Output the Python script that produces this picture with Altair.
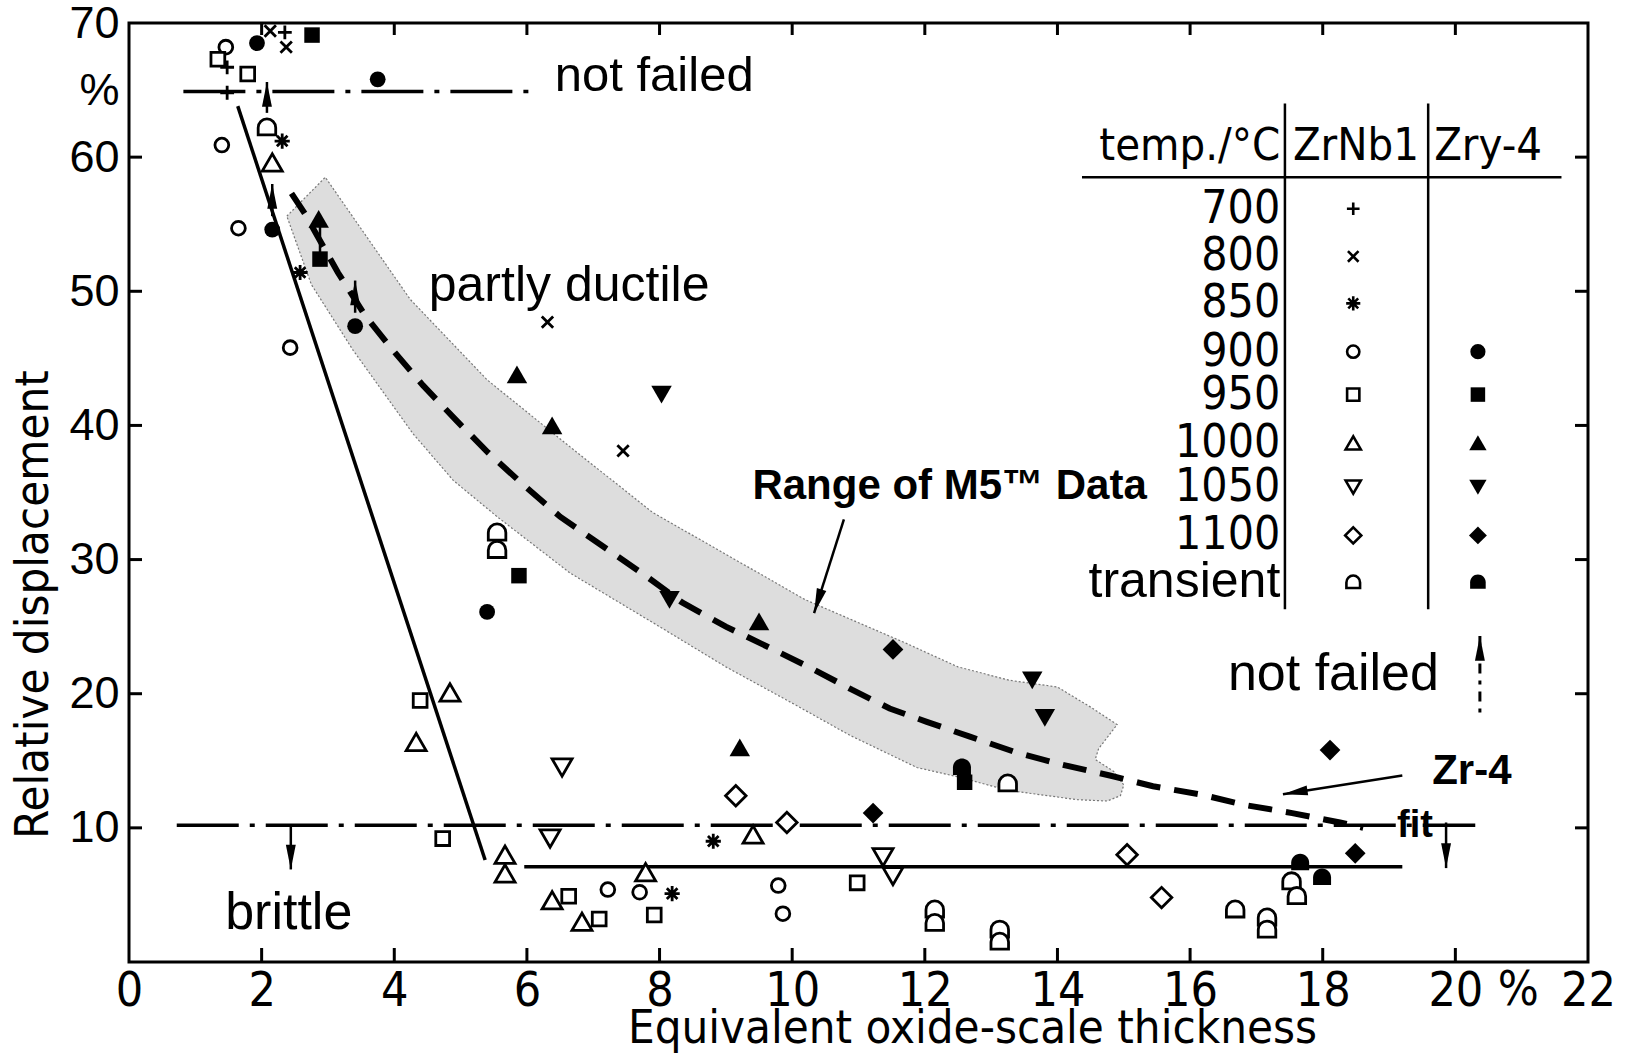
import math
import altair as alt
import pandas as pd

# ---------------- data ----------------
temp_order = ["700", "800", "850", "900", "950", "1000", "1050", "1100", "transient"]

# ZrNb1 (open symbols)
zrnb1 = {
    "700": ([1.48, 1.48, 2.35], [64.8, 66.7, 69.3]),
    "800": ([2.13, 2.37, 6.31, 7.45], [69.4, 68.2, 47.7, 38.1]),
    "850": ([2.31, 2.58, 8.81, 8.19], [61.2, 51.4, 9.0, 5.1]),
    "900": ([1.46, 1.40, 1.65, 2.43, 7.22, 7.70, 9.79, 9.86], [68.2, 60.9, 54.7, 45.8, 5.4, 5.2, 5.7, 3.6]),
    "950": ([1.34, 1.79, 4.39, 4.73, 6.63, 7.09, 7.92, 10.98], [67.3, 66.2, 19.5, 9.2, 4.9, 3.2, 3.5, 5.9]),
    "1000": ([2.16, 4.84, 4.33, 5.67, 5.67, 7.79, 6.38, 6.83, 9.41], [59.6, 20.1, 16.4, 8.0, 6.6, 6.7, 4.6, 3.0, 9.5]),
    "1050": ([6.53, 6.35, 11.37, 11.52], [14.5, 9.2, 7.8, 6.4]),
    "1100": ([9.15, 9.92, 15.05, 15.57], [12.4, 10.4, 8.0, 4.8]),
    "transient": ([2.08, 5.55, 5.55, 13.25, 12.15, 12.15, 13.13, 13.13, 16.68, 17.16, 17.16, 17.53, 17.61],
                  [62.2, 32.0, 30.7, 13.3, 3.9, 2.9, 2.4, 1.5, 3.9, 3.3, 2.4, 6.0, 4.9]),
}

# Zry-4 (filled symbols)
zry4 = {
    "900": ([1.93, 3.75, 2.16, 3.41, 5.40], [68.5, 65.8, 54.6, 47.4, 26.1]),
    "950": ([2.76, 2.88, 5.88, 12.60], [69.1, 52.4, 28.8, 13.4]),
    "1000": ([2.86, 5.85, 6.38, 9.50, 9.21], [55.4, 43.8, 40.0, 25.4, 16.0]),
    "1050": ([8.03, 8.15, 13.62, 13.81], [42.3, 27.0, 21.0, 18.2]),
    "1100": ([11.52, 11.22, 18.11, 18.49], [23.3, 11.1, 15.8, 8.1]),
    "transient": ([12.56, 17.66, 17.99], [14.5, 7.4, 6.3]),
}

# Zr-4 fit (dashed curve)
fit_x = [2.45, 2.65, 3.15, 3.56, 3.98, 4.43, 4.95, 5.41, 5.94, 6.50, 7.20, 7.76, 8.34, 9.00, 9.63,
         10.25, 10.90, 11.47, 12.03, 12.68, 13.39, 14.08, 14.79, 15.44, 16.15, 16.83, 17.54, 18.26, 18.61]
fit_y = [57.3, 55.8, 51.4, 48.2, 45.6, 43.0, 40.3, 38.0, 35.6, 33.2, 30.8, 28.9, 26.8, 25.0, 23.5,
         22.0, 20.3, 18.9, 17.9, 16.8, 15.6, 14.7, 13.9, 13.1, 12.5, 11.7, 11.1, 10.4, 10.0]

# Range of M5 data (shaded band outline)
band_x = [2.38, 2.96, 3.48, 4.24, 5.40, 6.65, 7.90, 10.20, 11.70, 12.50, 13.28, 14.00, 14.50, 14.90,
          14.62, 14.57, 14.85, 15.00, 14.95, 14.75, 14.30, 13.25, 12.50, 11.88, 10.87, 10.00, 9.00,
          8.00, 6.65, 5.55, 4.89, 4.28, 3.38, 2.75]
band_y = [55.6, 58.5, 54.8, 49.4, 43.4, 38.4, 33.5, 27.0, 23.8, 22.0, 21.0, 20.5, 19.0, 17.7,
          15.9, 15.1, 14.2, 13.2, 12.4, 12.0, 12.1, 12.8, 13.8, 14.5, 16.9, 19.3, 22.0,
          25.0, 29.0, 33.2, 35.9, 39.4, 45.6, 50.5]

# straight boundary lines (x1, y1, x2, y2)
solid_lines = [(1.64, 63.8, 5.37, 7.6), (5.96, 7.1, 19.2, 7.1)]
dashdot_lines = [(0.82, 64.9, 6.12, 64.9), (0.72, 10.2, 20.3, 10.2)]

# arrows (tail x, tail y, tip x, tip y)
arrows = [
    (2.08, 63.3, 2.08, 65.6),
    (2.16, 55.6, 2.16, 58.0),
    (3.41, 48.4, 3.41, 50.8),
    (2.44, 10.2, 2.44, 6.9),
    (19.86, 10.4, 19.86, 7.0),
    (10.78, 33.0, 10.33, 26.0),
    (19.20, 13.9, 17.40, 12.5),
]
link_lines = [(2.88, 52.4, 2.88, 55.4)]
notfailed_arrow = (20.37, 18.6, 20.37, 24.3)

# annotations
ann_plain = [("not failed", 6.42, 64.9), ("partly ductile", 4.52, 49.3),
             ("brittle", 1.45, 2.46), ("not failed", 16.57, 20.3)]
ann_bold = [("Range of M5\u2122 Data", 9.40, 34.5), ("Zr-4", 19.65, 13.3), ("fit", 19.12, 9.3)]

# legend table
leg_labels = ["700", "800", "850", "900", "950", "1000", "1050", "1100", "transient"]
leg_y = [56.15, 52.6, 49.1, 45.5, 42.3, 38.7, 35.4, 31.8, 28.3]
leg_zry4 = ["900", "950", "1000", "1050", "1100", "transient"]
leg_text_x = 17.36
leg_col1_x = 18.46
leg_col2_x = 20.34
leg_header = [("temp./°C", 17.36, "right"), ("ZrNb1", 17.55, "left"), ("Zry-4", 19.68, "left")]
leg_header_y = 59.8
leg_rules = [(14.37, 58.5, 21.6, 58.5), (17.43, 64.0, 17.43, 26.3), (19.59, 64.0, 19.59, 26.3)]

x_ticks = [2, 4, 6, 8, 10, 12, 14, 16, 18, 20]
y_ticks = [10, 20, 30, 40, 50, 60]

# ---------------- styling ----------------
W, H = 1459, 939
XMAX, YMAX = 22, 70
NARROW = "Liberation Sans Narrow, DejaVu Sans Condensed, Liberation Sans, sans-serif"
SANS = "Liberation Sans, Arial, sans-serif"

SHAPES = {
    "700": "M-1,0H1M0,-1V1",
    "800": "M-0.75,-0.75L0.75,0.75M0.75,-0.75L-0.75,0.75",
    "850": "M-1,0H1M0,-1V1M-0.7,-0.7L0.7,0.7M0.7,-0.7L-0.7,0.7",
    "900": "circle",
    "950": "square",
    "1000": "triangle-up",
    "1050": "triangle-down",
    "1100": "diamond",
    "transient": "M-0.9,0.75V0A0.9,0.9,0,0,1,0.9,0V0.75Z",
}
OPEN_SIZE = {"700": 190, "800": 230, "850": 230, "900": 190, "950": 190,
             "1000": 400, "1050": 400, "1100": 420, "transient": 380}
FILL_SIZE = {"900": 250, "950": 240, "1000": 420, "1050": 420, "1100": 430, "transient": 400}
LEG_OPEN_SIZE = {"700": 160, "800": 200, "850": 200, "900": 150, "950": 150,
                 "1000": 230, "1050": 230, "1100": 260, "transient": 230}
LEG_FILL_SIZE = {"900": 230, "950": 210, "1000": 300, "1050": 300, "1100": 320, "transient": 300}

xs = alt.Scale(domain=[0, XMAX], nice=False, zero=False)
ys = alt.Scale(domain=[0, YMAX], nice=False, zero=False)

x_axis = alt.Axis(values=list(range(0, 23, 2)), title="Equivalent oxide-scale thickness",
                  labelFont=NARROW, labelFontSize=48, labelPadding=5, labelColor="black",
                  tickSize=0, domain=False, grid=False, labelFlush=False, labelOverlap=False,
                  titleFont=NARROW, titleFontSize=47, titleFontWeight="normal", titleColor="black",
                  titleX=843, titleY=80, titleAlign="center", titleBaseline="alphabetic")
y_axis = alt.Axis(values=[10, 20, 30, 40, 50, 60, 65, 70],
                  labelExpr="datum.value == 65 ? '%' : datum.label",
                  labelFont=SANS, labelFontSize=45, labelPadding=10, labelColor="black",
                  tickSize=0, domain=False, grid=False, labelFlush=False, labelOverlap=False,
                  title="Relative displacement", titleFont=NARROW, titleFontSize=47,
                  titleFontWeight="normal", titleColor="black", titleAngle=270,
                  titleX=-82, titleY=581, titleAlign="center", titleBaseline="alphabetic")

X = alt.X("x:Q", scale=xs, axis=x_axis)
Y = alt.Y("y:Q", scale=ys, axis=y_axis)


def seg_df(segs):
    return pd.DataFrame(segs, columns=["x", "y", "x2", "y2"])


layers = []

# band
band_df = pd.DataFrame({"x": band_x + band_x[:1], "y": band_y + band_y[:1],
                        "i": list(range(len(band_x) + 1))})
layers.append(alt.Chart(band_df).mark_line(fill="#d9d9d9", fillOpacity=0.9, stroke="#777777",
                                           strokeWidth=1.2, strokeDash=[2, 2])
              .encode(x=X, y=Y, order="i:Q"))

# frame ticks (inward)
xt = pd.DataFrame({"x": x_ticks})
yt = pd.DataFrame({"y": y_ticks})
layers.append(alt.Chart(xt).mark_rule(color="black", strokeWidth=3)
              .encode(x=X, y=alt.value(H), y2=alt.value(H - 14)))
layers.append(alt.Chart(xt).mark_rule(color="black", strokeWidth=3)
              .encode(x=X, y=alt.value(0), y2=alt.value(12)))
layers.append(alt.Chart(yt).mark_rule(color="black", strokeWidth=3)
              .encode(y=Y, x=alt.value(0), x2=alt.value(13)))
layers.append(alt.Chart(yt).mark_rule(color="black", strokeWidth=3)
              .encode(y=Y, x=alt.value(W), x2=alt.value(W - 13)))

# boundary lines
layers.append(alt.Chart(seg_df(solid_lines)).mark_rule(color="black", strokeWidth=3.5)
              .encode(x=X, y=Y, x2="x2:Q", y2="y2:Q"))
layers.append(alt.Chart(seg_df(dashdot_lines)).mark_rule(color="black", strokeWidth=3.5,
                                                         strokeDash=[62, 11, 5, 11])
              .encode(x=X, y=Y, x2="x2:Q", y2="y2:Q"))

# fit curve
fit_df = pd.DataFrame({"x": fit_x, "y": fit_y, "i": list(range(len(fit_x)))})
layers.append(alt.Chart(fit_df).mark_line(color="black", strokeWidth=6, strokeDash=[24, 14])
              .encode(x=X, y=Y, order="i:Q"))

# arrows
sx, sy = W / XMAX, H / YMAX
arr_df = seg_df(arrows + link_lines)
layers.append(alt.Chart(arr_df).mark_rule(color="black", strokeWidth=2.5)
              .encode(x=X, y=Y, x2="x2:Q", y2="y2:Q"))
layers.append(alt.Chart(seg_df([notfailed_arrow])).mark_rule(color="black", strokeWidth=3,
                                                             strokeDash=[4, 7, 10, 7])
              .encode(x=X, y=Y, x2="x2:Q", y2="y2:Q"))
heads = []
for (x1, y1, x2, y2) in arrows + [notfailed_arrow]:
    dxs = (x2 - x1) * sx
    dys = -(y2 - y1) * sy
    ang = math.degrees(math.atan2(dxs, -dys)) % 360
    heads.append({"x": x2, "y": y2, "angle": ang})
head_df = pd.DataFrame(heads)
layers.append(alt.Chart(head_df).mark_point(filled=True, color="black", opacity=1, strokeWidth=0)
              .encode(x=X, y=Y, angle=alt.Angle("angle:Q", scale=None),
                      shape=alt.value("M0,0L0.34,1.7L-0.34,1.7Z"), size=alt.value(850)))

# data points (one layer per temperature / alloy)
for t, (xl, yl) in zrnb1.items():
    d = pd.DataFrame({"x": xl, "y": yl})
    layers.append(alt.Chart(d).mark_point(filled=False, fill="white", fillOpacity=1, stroke="black",
                                          strokeWidth=2.8, opacity=1, shape=SHAPES[t], size=OPEN_SIZE[t])
                  .encode(x=X, y=Y))
for t, (xl, yl) in zry4.items():
    d = pd.DataFrame({"x": xl, "y": yl})
    layers.append(alt.Chart(d).mark_point(filled=True, color="black", opacity=1, strokeWidth=0,
                                          shape=SHAPES[t], size=FILL_SIZE[t])
                  .encode(x=X, y=Y))

# annotations
for (t, xv, yv), fs in zip(ann_plain, [49, 50, 52, 52]):
    d = pd.DataFrame({"x": [xv], "y": [yv], "t": [t]})
    layers.append(alt.Chart(d).mark_text(font=SANS, fontSize=fs, align="left", baseline="alphabetic",
                                         color="black")
                  .encode(x=X, y=Y, text="t:N"))
for (t, xv, yv), fs in zip(ann_bold, [42, 42, 38]):
    d = pd.DataFrame({"x": [xv], "y": [yv], "t": [t]})
    layers.append(alt.Chart(d).mark_text(font=SANS, fontSize=fs, fontWeight="bold", align="left",
                                         baseline="alphabetic", color="black")
                  .encode(x=X, y=Y, text="t:N"))

# "%" next to 20 on x axis
pct = pd.DataFrame({"x": [20.95], "t": ["%"]})
layers.append(alt.Chart(pct).mark_text(font=NARROW, fontSize=48, align="center", baseline="top",
                                       color="black")
              .encode(x=X, y=alt.value(H + 5), text="t:N"))

# legend table
layers.append(alt.Chart(seg_df(leg_rules)).mark_rule(color="black", strokeWidth=2.5)
              .encode(x=X, y=Y, x2="x2:Q", y2="y2:Q"))
for (t, xv, al) in leg_header:
    d = pd.DataFrame({"x": [xv], "y": [leg_header_y], "t": [t]})
    layers.append(alt.Chart(d).mark_text(font=NARROW, fontSize=45, align=al, baseline="alphabetic",
                                         color="black")
                  .encode(x=X, y=Y, text="t:N"))
leg_num = pd.DataFrame({"x": [leg_text_x] * 8, "y": leg_y[:8], "t": leg_labels[:8]})
layers.append(alt.Chart(leg_num).mark_text(font=NARROW, fontSize=46, align="right", baseline="middle",
                                           color="black")
              .encode(x=X, y=Y, text="t:N"))
leg_tr = pd.DataFrame({"x": [leg_text_x], "y": leg_y[8:], "t": leg_labels[8:]})
layers.append(alt.Chart(leg_tr).mark_text(font=SANS, fontSize=50, align="right", baseline="middle",
                                          color="black")
              .encode(x=X, y=Y, text="t:N"))
for t, yv in zip(leg_labels, leg_y):
    d = pd.DataFrame({"x": [leg_col1_x], "y": [yv]})
    layers.append(alt.Chart(d).mark_point(filled=False, fill="white", stroke="black", strokeWidth=2.6,
                                          opacity=1, shape=SHAPES[t], size=LEG_OPEN_SIZE[t])
                  .encode(x=X, y=Y))
for t in leg_zry4:
    yv = leg_y[leg_labels.index(t)]
    d = pd.DataFrame({"x": [leg_col2_x], "y": [yv]})
    layers.append(alt.Chart(d).mark_point(filled=True, color="black", opacity=1, strokeWidth=0,
                                          shape=SHAPES[t], size=LEG_FILL_SIZE[t])
                  .encode(x=X, y=Y))

chart = alt.layer(*layers).properties(
    width=W, height=H,
    padding={"left": 129, "top": 23, "right": 40, "bottom": 92},
    autosize=alt.AutoSizeParams(type="none"),
    background="white",
).configure_view(stroke="black", strokeWidth=3)

chart.save("out.html", embed_options={"renderer": "svg", "actions": False})
